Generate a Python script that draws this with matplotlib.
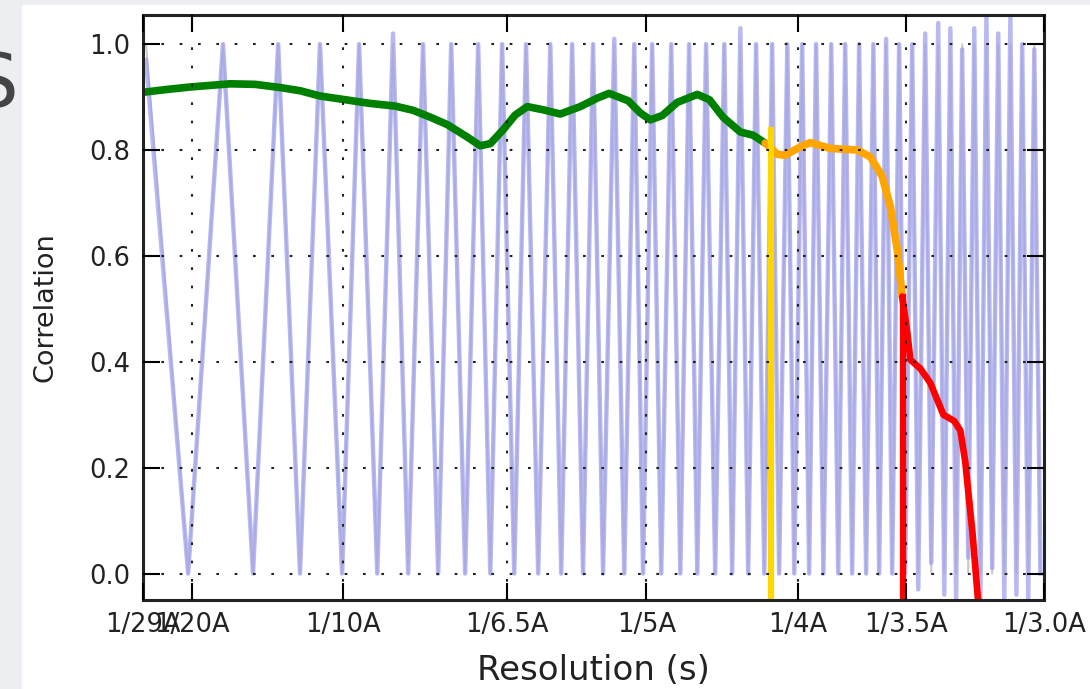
#!/usr/bin/env python3
# -*- coding: utf-8 -*-
"""CTF fit quality: correlation vs resolution, drawn over the CTF oscillation."""

import matplotlib
matplotlib.use('Agg')
from matplotlib import pyplot as plt
from matplotlib.patches import Rectangle

# x axis in spatial frequency s (1/A)
x_range = (0.0339, 0.3312)
tick_pos = [0.0339, 0.05, 0.1, 1 / 6.5, 0.2, 0.25, 1 / 3.5, 0.3312]
tick_labels = ['1/29A', '1/20A', '1/10A', '1/6.5A', '1/5A', '1/4A', '1/3.5A', '1/3.0A']
y_ticks = [0.0, 0.2, 0.4, 0.6, 0.8, 1.0]

# CTF oscillation: zero positions and peak positions
ctf_zeros = [0.0488, 0.0702, 0.0857, 0.0996, 0.1112, 0.1214, 0.1313, 0.1402,
             0.1485, 0.1564, 0.1643, 0.1719, 0.1791, 0.1857, 0.1927, 0.1989,
             0.2049, 0.2112, 0.2168, 0.2227, 0.2283, 0.2336, 0.2389, 0.2438,
             0.2488, 0.2537, 0.2584, 0.2633, 0.2679, 0.2725, 0.2768, 0.2811,
             0.2854, 0.2897, 0.2940, 0.2983, 0.3022, 0.3062, 0.3102, 0.3141,
             0.3181, 0.3221, 0.3260, 0.3300]
ctf_peaks = [0.0349, 0.0603, 0.0785, 0.0923, 0.1052, 0.1164, 0.1263, 0.1356,
             0.1445, 0.1524, 0.1603, 0.1683, 0.1755, 0.1824, 0.1894, 0.1960,
             0.2019, 0.2082, 0.2141, 0.2197, 0.2257, 0.2310, 0.2362, 0.2415,
             0.2465, 0.2514, 0.2560, 0.2610, 0.2656, 0.2702, 0.2749, 0.2791,
             0.2834, 0.2877, 0.2920, 0.2963, 0.3003, 0.3042, 0.3082, 0.3122,
             0.3161, 0.3201, 0.3240, 0.3280]
# measured (blue) curve heights at those peaks / zeros
obs_peak = [0.97, 1.0, 1.0, 1.0, 1.0, 1.02, 1.0, 1.0, 1.0, 1.0, 1.0, 1.0,
            1.0, 1.0, 1.01, 1.0, 1.0, 1.0, 1.0, 1.0, 1.0, 1.03, 1.0, 1.0,
            1.0, 1.0, 1.0, 1.0, 1.0, 1.0, 1.0, 1.01, 1.0, 1.0, 1.02, 1.04,
            1.03, 0.99, 1.03, 1.05, 1.02, 1.05, 1.0, 0.99]
obs_trough = [0.0] * 33 + [-0.03, 0.02, -0.04, -0.05, 0.03, -0.05, 0.01,
                           -0.05, -0.04, -0.05, 0.0]

# correlation curve, in three pieces
green_s = [0.0339, 0.0412, 0.0494, 0.0626, 0.0709, 0.0791, 0.0857, 0.0923,
           0.1006, 0.1088, 0.1171, 0.1230, 0.1287, 0.1343, 0.1402, 0.1452,
           0.1485, 0.1527, 0.1567, 0.1607, 0.1659, 0.1716, 0.1782, 0.1838,
           0.1877, 0.1940, 0.1980, 0.2013, 0.2052, 0.2102, 0.2168, 0.2208,
           0.2253, 0.2310, 0.2352, 0.2392]
green_y = [0.909, 0.914, 0.919, 0.925, 0.924, 0.918, 0.912, 0.902,
           0.895, 0.888, 0.883, 0.875, 0.862, 0.848, 0.827, 0.808,
           0.812, 0.838, 0.866, 0.882, 0.876, 0.868, 0.882, 0.898,
           0.907, 0.893, 0.870, 0.857, 0.865, 0.890, 0.905, 0.895,
           0.862, 0.834, 0.828, 0.813]
orange_s = [0.2392, 0.2432, 0.2458, 0.2508, 0.2541, 0.2607, 0.2696, 0.2739,
            0.2778, 0.2805, 0.2828, 0.2844]
orange_y = [0.813, 0.792, 0.790, 0.806, 0.814, 0.803, 0.800, 0.787,
            0.750, 0.693, 0.611, 0.523]
red_s = [0.2844, 0.2861, 0.2871, 0.2904, 0.2937, 0.2980, 0.3016, 0.3036,
         0.3052, 0.3076, 0.3095]
red_y = [0.523, 0.455, 0.404, 0.387, 0.360, 0.300, 0.288, 0.270,
         0.212, 0.077, -0.055]

# resolution markers (vertical lines)
yellow_mark = (0.2412, 0.838)
red_mark = (0.2848, 0.523)


def main():
    fig = plt.figure(figsize=(10.9, 6.89), dpi=100, facecolor='#eceef1')
    fig.patches.append(Rectangle((22 / 1090, 0), 1, 1 - 5 / 689,
                                 transform=fig.transFigure,
                                 facecolor='white', edgecolor='none', zorder=-5))
    fig.text(19 / 1090, 1 - 86 / 689, 'S', ha='right', va='center',
             fontsize=54, color='#444444', zorder=-6)

    ax = fig.add_axes([143 / 1090, 1 - 600 / 689, 901 / 1090, 585 / 689])
    ax.set_zorder(2)

    # triangle-wave outlines through the read zeros / peaks
    xs, theo, meas = [], [], []
    for i, pk in enumerate(ctf_peaks):
        xs.append(pk)
        theo.append(1.0)
        meas.append(obs_peak[i])
        if i < len(ctf_zeros):
            xs.append(ctf_zeros[i])
            theo.append(0.0)
            meas.append(obs_trough[i])
    ax.plot(xs, theo, color='#c8c8c8', lw=1.4)
    ax.plot(xs, meas, color='#a2a2ee', lw=3.2, alpha=0.75,
            solid_joinstyle='round')

    kw = dict(solid_capstyle='round', solid_joinstyle='round')
    ax.plot(green_s, green_y, color='green', lw=5.5, **kw)
    ax.plot(orange_s, orange_y, color='orange', lw=5.5, **kw)
    ax.plot(red_s, red_y, color='red', lw=4.8, **kw)
    ax.plot([yellow_mark[0]] * 2, [-0.1, yellow_mark[1]], color='gold', lw=4.5)
    ax.plot([red_mark[0]] * 2, [-0.1, red_mark[1]], color='red', lw=4.5)

    ax.set_xlim(*x_range)
    ax.set_ylim(-0.05, 1.055)
    ax.set_xticks(tick_pos)
    ax.set_xticklabels(tick_labels)
    ax.set_yticks(y_ticks)
    ax.set_yticklabels(['%.1f' % v for v in y_ticks])
    ax.set_axisbelow(False)
    ax.grid(True, color='#222222', lw=1.5, linestyle=(0, (1.3, 7.5)))
    ax.tick_params(direction='in', length=12, width=1.5, top=True, right=True,
                   labelsize=18.5, labelcolor='#222222', pad=9)
    for sp in ax.spines.values():
        sp.set_linewidth(2.2)
        sp.set_color('#222222')

    ax.set_xlabel('Resolution (s)', fontsize=24.5, color='#222222', labelpad=11)
    ax.set_ylabel('Correlation', fontsize=19.5, color='#222222', labelpad=22)

    fig.savefig('out.png', dpi=100, facecolor=fig.get_facecolor())


if __name__ == "__main__":
    main()
